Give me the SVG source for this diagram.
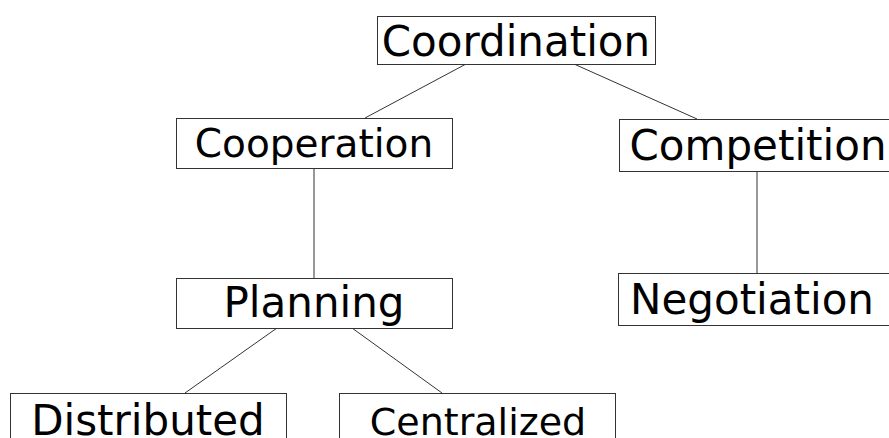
<svg xmlns="http://www.w3.org/2000/svg" width="889" height="438" viewBox="0 0 889 438">
<style>
.box{fill:#fff;stroke:#333;stroke-width:1}
.lbl{font-family:"DejaVu Sans",sans-serif;font-size:42px;fill:#000;text-anchor:middle}
.edge{stroke:#333;stroke-width:1;fill:none}
</style>
<rect width="889" height="438" fill="#fff"/>
<g id="connectors">
<line class="edge" x1="466" y1="64" x2="365" y2="118"/>
<line class="edge" x1="574" y1="64" x2="697" y2="119"/>
<line class="edge" x1="314" y1="168" x2="314" y2="278"/>
<line class="edge" x1="757" y1="171" x2="757" y2="273"/>
<line class="edge" x1="277" y1="328" x2="185" y2="393"/>
<line class="edge" x1="352" y1="328" x2="442" y2="393"/>
</g>
<g id="coordination"><rect class="box" x="377.5" y="16.5" width="278" height="48"/><text class="lbl" x="516" y="56">Coordination</text></g>
<g id="cooperation"><rect class="box" x="176.5" y="118.5" width="276" height="50"/><text class="lbl" x="314" y="157" style="font-size:39px">Cooperation</text></g>
<g id="competition"><rect class="box" x="619.5" y="119.5" width="280" height="52"/><text class="lbl" x="758" y="160">Competition</text></g>
<g id="planning"><rect class="box" x="176.5" y="278.5" width="276" height="50"/><text class="lbl" x="314" y="317">Planning</text></g>
<g id="negotiation"><rect class="box" x="618.5" y="273.5" width="280" height="52"/><text class="lbl" x="752" y="314">Negotiation</text></g>
<g id="distributed"><rect class="box" x="10.5" y="393.5" width="276" height="60"/><text class="lbl" x="148" y="435">Distributed</text></g>
<g id="centralized"><rect class="box" x="339.5" y="393.5" width="276" height="60"/><text class="lbl" x="478" y="435" style="font-size:38px">Centralized</text></g>
</svg>
